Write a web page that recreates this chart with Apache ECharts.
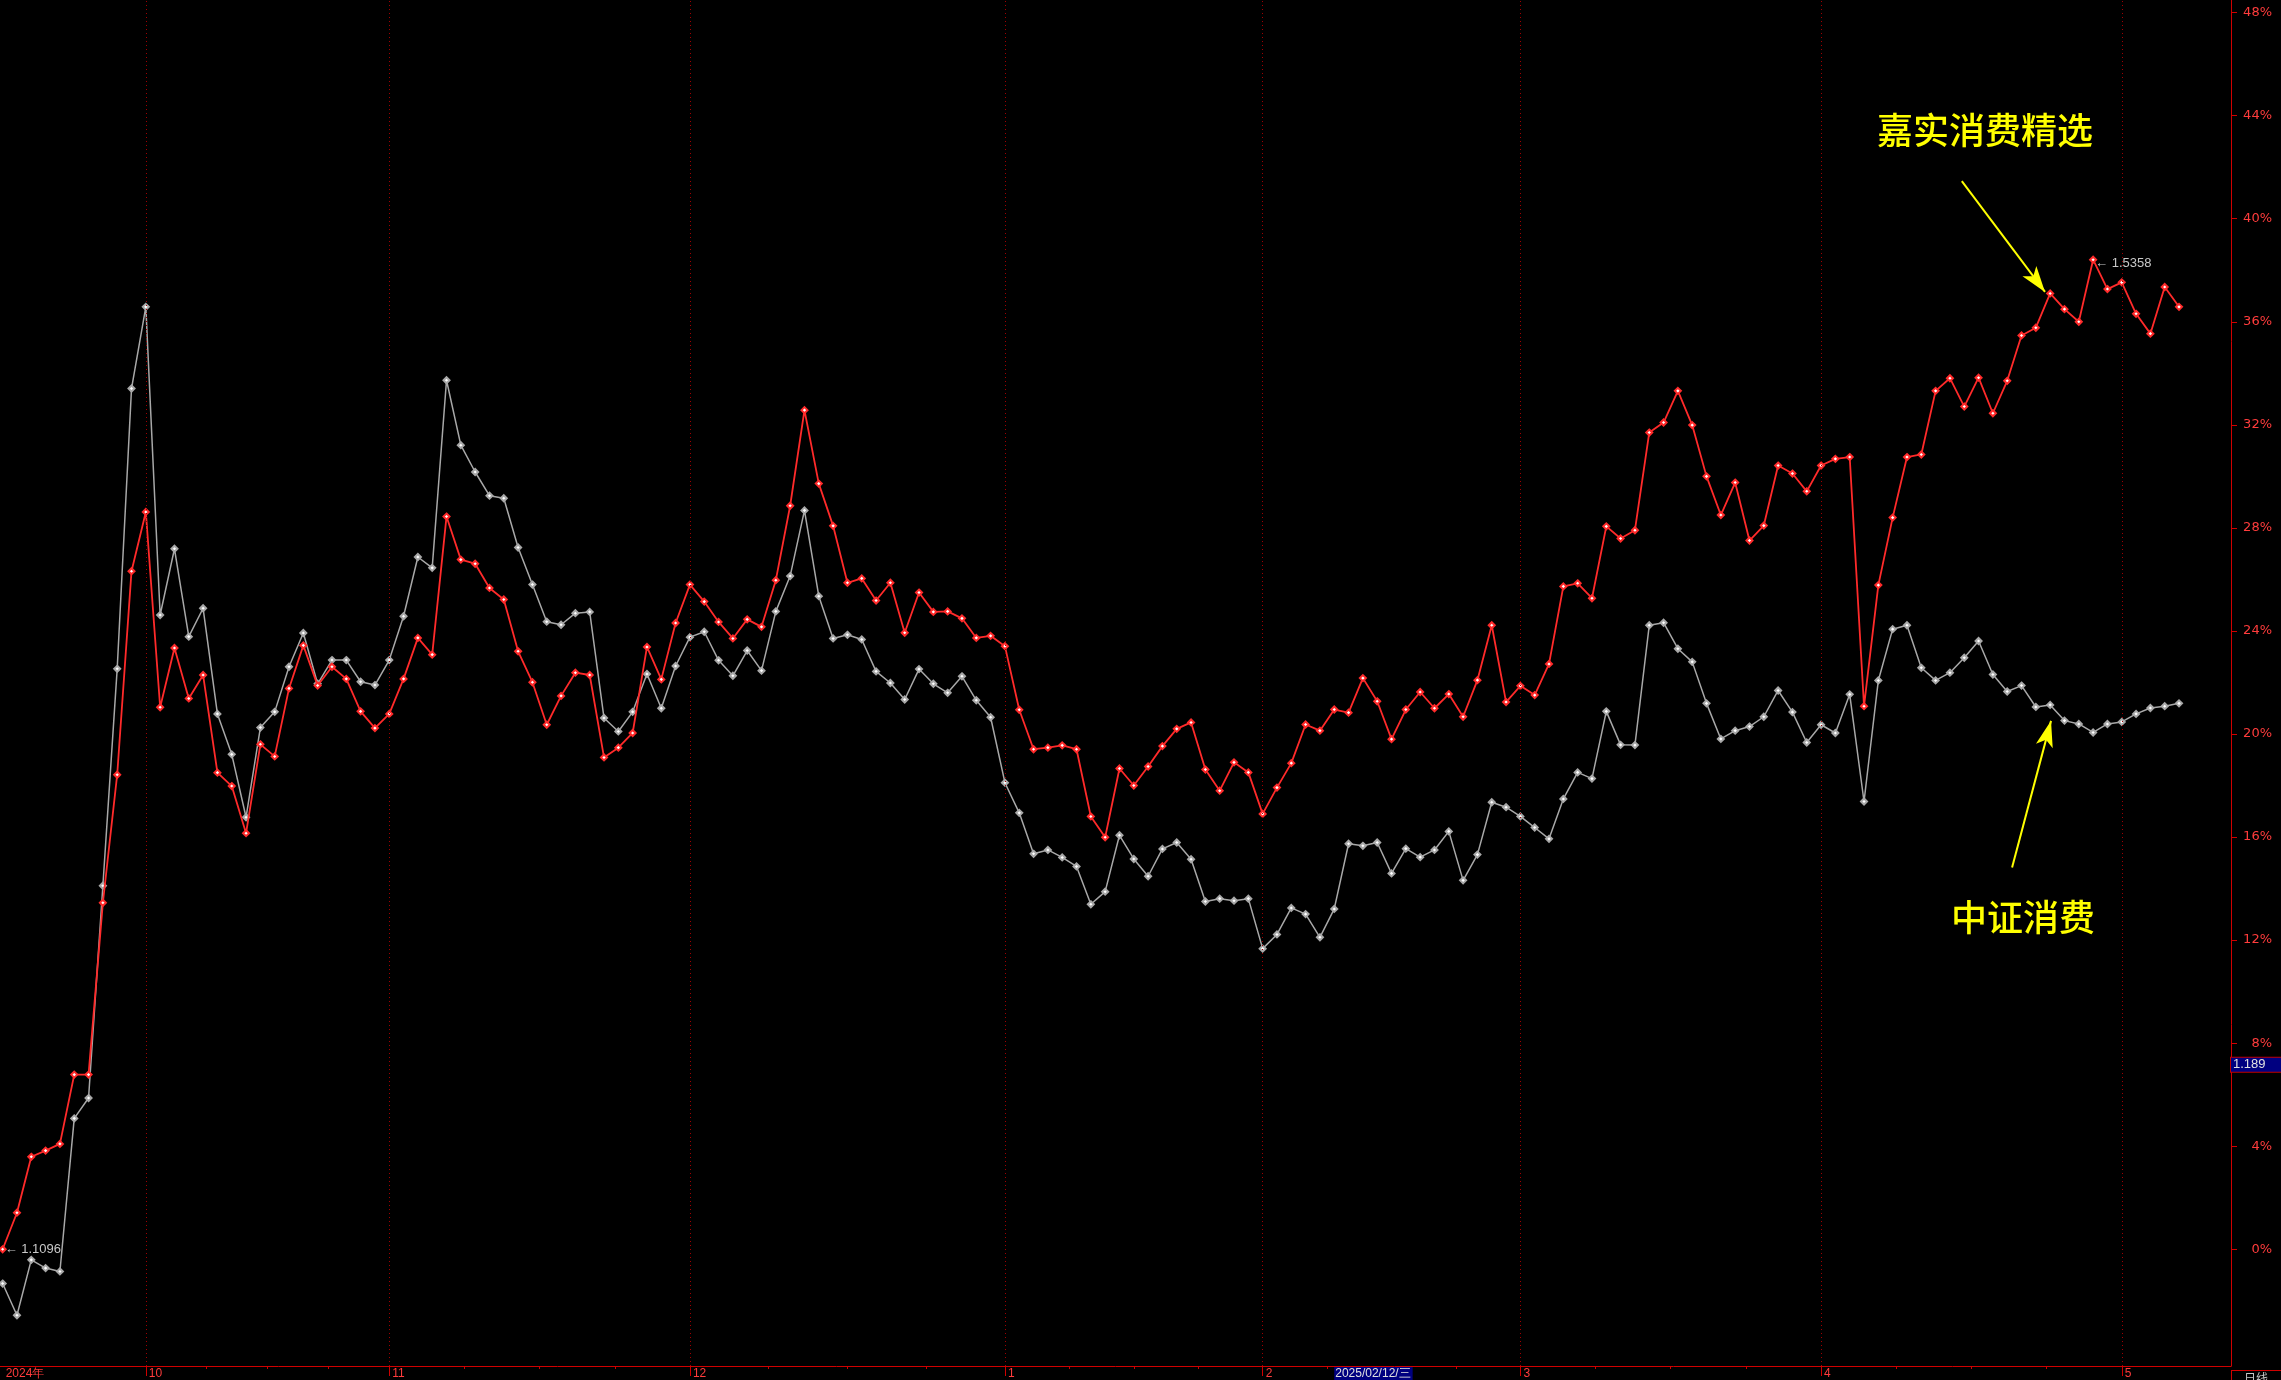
<!DOCTYPE html>
<html>
<head>
<meta charset="utf-8">
<script src="https://cdn.jsdelivr.net/npm/echarts@6/dist/echarts.min.js"></script>
<style>
html,body{margin:0;padding:0;background:#000;}
#chart{width:2281px;height:1380px;}
</style>
</head>
<body>
<div id="chart"></div>
<script>
// 嘉实消费精选 cumulative change (%), one value per trading day
const fundValues = [
 0.00, 1.42, 3.59, 3.83, 4.09, 6.78, 6.78, 13.45, 18.42, 26.32,
 28.62, 21.04, 23.34, 21.38, 22.29, 18.50, 17.98, 16.15, 19.60, 19.13,
 21.77, 23.44, 21.88, 22.61, 22.14, 20.88, 20.23, 20.78, 22.14, 23.73,
 23.08, 28.44, 26.77, 26.61, 25.67, 25.22, 23.21, 22.01, 20.36, 21.48,
 22.38, 22.29, 19.09, 19.47, 20.04, 23.38, 22.12, 24.31, 25.80, 25.14,
 24.35, 23.71, 24.45, 24.16, 25.97, 28.86, 32.57, 29.72, 28.08, 25.87,
 26.04, 25.18, 25.87, 23.93, 25.49, 24.74, 24.76, 24.49, 23.73, 23.81,
 23.41, 20.94, 19.41, 19.47, 19.56, 19.41, 16.80, 15.99, 18.66, 18.00,
 18.74, 19.53, 20.20, 20.45, 18.62, 17.80, 18.90, 18.51, 16.90, 17.92,
 18.87, 20.37, 20.13, 20.95, 20.83, 22.17, 21.27, 19.80, 20.95, 21.63,
 21.00, 21.55, 20.67, 22.09, 24.22, 21.24, 21.87, 21.51, 22.72, 25.73,
 25.85, 25.27, 28.06, 27.59, 27.91, 31.70, 32.09, 33.32, 31.99, 30.00,
 28.50, 29.76, 27.51, 28.09, 30.42, 30.11, 29.42, 30.42, 30.68, 30.75,
 21.08, 25.78, 28.40, 30.75, 30.85, 33.32, 33.81, 32.71, 33.83, 32.45,
 33.71, 35.47, 35.77, 37.10, 36.49, 36.00, 38.41, 37.27, 37.53, 36.31,
 35.54, 37.35, 36.58
];
// 中证消费 cumulative change (%)
const indexValues = [
 -1.33, -2.56, -0.41, -0.73, -0.86, 5.08, 5.87, 14.11, 22.53, 33.41,
 36.58, 24.62, 27.19, 23.78, 24.88, 20.78, 19.21, 16.77, 20.25, 20.86,
 22.61, 23.92, 21.95, 22.87, 22.87, 22.03, 21.90, 22.87, 24.57, 26.87,
 26.45, 33.73, 31.21, 30.17, 29.25, 29.15, 27.24, 25.80, 24.36, 24.24,
 24.69, 24.74, 20.62, 20.10, 20.86, 22.33, 21.00, 22.64, 23.76, 23.97,
 22.86, 22.26, 23.24, 22.46, 24.76, 26.13, 28.68, 25.35, 23.71, 23.85,
 23.67, 22.43, 21.98, 21.34, 22.52, 21.95, 21.60, 22.24, 21.31, 20.65,
 18.11, 16.94, 15.35, 15.50, 15.21, 14.86, 13.39, 13.88, 16.07, 15.15,
 14.48, 15.54, 15.79, 15.14, 13.50, 13.61, 13.53, 13.61, 11.67, 12.22,
 13.25, 13.01, 12.11, 13.21, 15.74, 15.66, 15.79, 14.59, 15.55, 15.22,
 15.50, 16.22, 14.32, 15.32, 17.35, 17.16, 16.80, 16.37, 15.93, 17.48,
 18.51, 18.27, 20.88, 19.58, 19.57, 24.22, 24.32, 23.31, 22.80, 21.19,
 19.81, 20.13, 20.29, 20.67, 21.69, 20.85, 19.67, 20.36, 20.04, 21.54,
 17.38, 22.08, 24.07, 24.22, 22.57, 22.08, 22.38, 22.96, 23.61, 22.31,
 21.65, 21.88, 21.05, 21.13, 20.52, 20.39, 20.06, 20.39, 20.47, 20.78,
 21.01, 21.08, 21.19
];
// month boundary (first trading day index) and labels
const monthTicks  = [0, 10, 27, 48, 70, 88, 106, 127, 148];
const monthLabels = ['2024年', '10', '11', '12', '1', '2', '3', '4', '5'];
// right axis tick labels (%)
const yTicks = [0, 4, 8, 12, 16, 20, 24, 28, 32, 36, 40, 44, 48];
// texts
const fundName = '嘉实消费精选';
const indexName = '中证消费';
const startLabel = '1.1096';
const maxLabel = '1.5358';
const cursorValue = 1.189;
const cursorDateIndex = 93;
const cursorDate = '2025/02/12/三';

const xMin = -0.185, xMax = 155.63;
const yMin = -4.53, yMax = 48.49;

// minor ticks: each month split into four parts
const minorTicks = [];
for (let k = 1; k < monthTicks.length - 1; k++) {
  const a = monthTicks[k], b = monthTicks[k + 1];
  for (let j = 1; j < 4; j++) minorTicks.push(a + (b - a) * j / 4);
}

const RED = '#ff2a2a';
const GRAY = '#a8a8a8';
const AXIS = '#d00000';
const LBL = '#ff3c3c';

const chart = echarts.init(document.getElementById('chart'), null, {renderer: 'canvas'});
const maxIdx = fundValues.indexOf(Math.max(...fundValues));
const cursorPct = (cursorValue / Number(startLabel) - 1) * 100;

chart.setOption({
  backgroundColor: '#000000',
  animation: false,
  grid: {left: 0, right: 50, top: 0, bottom: 10, containLabel: false},
  xAxis: [{
    type: 'value', min: xMin, max: xMax, position: 'bottom',
    axisLine: {show: true, onZero: false, lineStyle: {color: AXIS, width: 1}},
    axisTick: {show: true, customValues: monthTicks.slice(1), length: 10, lineStyle: {color: AXIS}},
    axisLabel: {
      show: true, customValues: monthTicks,
      formatter: v => monthLabels[monthTicks.indexOf(v)],
      color: LBL, fontSize: 12, fontFamily: 'Liberation Sans', align: 'left', margin: 2, padding: [0, 0, 0, 3]
    },
    splitLine: {show: false}
  }, {
    type: 'value', min: xMin, max: xMax, position: 'bottom',
    axisLine: {show: false, onZero: false},
    axisTick: {show: true, customValues: minorTicks, length: 3, lineStyle: {color: AXIS}},
    axisLabel: {show: false},
    splitLine: {show: false}
  }],
  yAxis: {
    type: 'value', position: 'right', min: yMin, max: yMax,
    axisLine: {show: true, onZero: false, lineStyle: {color: AXIS, width: 1}},
    axisTick: {show: true, customValues: yTicks, length: 6, lineStyle: {color: AXIS}},
    axisLabel: {
      show: true, customValues: yTicks, formatter: '{value}%',
      color: LBL, fontSize: 13, fontFamily: 'DejaVu Sans', align: 'right', margin: 41
    },
    splitLine: {show: false}
  },
  series: [{
    name: indexName, type: 'line',
    data: indexValues.map((v, i) => [i, v]),
    symbol: 'diamond', symbolSize: 6, showSymbol: true,
    lineStyle: {color: GRAY, width: 1.5},
    itemStyle: {color: '#ffffff', borderColor: GRAY, borderWidth: 2},
    z: 2,
    markLine: {
      silent: true, symbol: 'none',
      label: {show: false},
      lineStyle: {color: '#a00000', type: [1, 3], width: 1},
      data: monthTicks.slice(1).map(v => ({xAxis: v}))
    }
  }, {
    name: fundName, type: 'line',
    data: fundValues.map((v, i) => [i, v]),
    symbol: 'diamond', symbolSize: 6, showSymbol: true,
    lineStyle: {color: RED, width: 1.8},
    itemStyle: {color: '#ffffff', borderColor: RED, borderWidth: 2},
    z: 3,
    markPoint: {
      silent: true, symbolSize: 0,
      data: [
        {coord: [0, fundValues[0]], label: {show: true, position: 'right', distance: 2, formatter: '← ' + startLabel, color: '#c8c8c8', fontSize: 13, fontFamily: 'Liberation Sans'}},
        {coord: [maxIdx, fundValues[maxIdx]], label: {show: true, position: 'right', distance: 2, offset: [0, 4], formatter: '← ' + maxLabel, color: '#c8c8c8', fontSize: 13, fontFamily: 'Liberation Sans'}},
        {coord: [cursorDateIndex, yMin], label: {show: true, position: [0, 1], formatter: cursorDate, color: '#e0e0e0', backgroundColor: '#000080', fontSize: 12, fontFamily: 'Liberation Sans', padding: [1, 2, 1, 1]}}
      ]
    },
    markLine: {
      silent: true, symbol: 'none',
      data: [
        [{coord: [136.83, 41.46], symbol: 'none', lineStyle: {color: '#ffff00', width: 2, type: 'solid'}},
         {coord: [142.64, 37.16], symbol: 'arrow', symbolSize: [13, 26]}],
        [{coord: [140.34, 14.82], symbol: 'none', lineStyle: {color: '#ffff00', width: 2, type: 'solid'}},
         {coord: [143.06, 20.51], symbol: 'arrow', symbolSize: [13, 26]}]
      ],
      label: {show: false}
    }
  }, {
    name: 'cursor', type: 'line', data: [], silent: true,
    markLine: {
      silent: true, symbol: 'none',
      lineStyle: {color: 'rgba(0,0,0,0)', width: 0, type: 'solid'},
      data: [{yAxis: cursorPct}],
      label: {show: true, position: 'end', distance: 0, formatter: String(cursorValue), color: '#e0e0e0', backgroundColor: '#000080', borderColor: '#c00000', borderWidth: 1, fontSize: 13, fontFamily: 'Liberation Sans', padding: [1, 16, 0, 2]}
    }
  }],
  graphic: [
    {type: 'text', left: 1877, top: 112, style: {text: fundName, fill: '#ffff00', font: '500 36px "Noto Sans CJK SC"'}},
    {type: 'text', left: 1951, top: 899, style: {text: indexName, fill: '#ffff00', font: '500 36px "Noto Sans CJK SC"'}},
    {type: 'text', left: 2244, top: 1372, style: {text: '日线', fill: '#c8c8c8', font: '12px "Noto Sans CJK SC"'}},
    {type: 'line', shape: {x1: 2231.5, y1: 1370, x2: 2231.5, y2: 1380}, style: {stroke: AXIS, lineWidth: 1}},
    {type: 'line', shape: {x1: 2231, y1: 1370.5, x2: 2281, y2: 1370.5}, style: {stroke: AXIS, lineWidth: 1}}
  ]
});
</script>
</body>
</html>
